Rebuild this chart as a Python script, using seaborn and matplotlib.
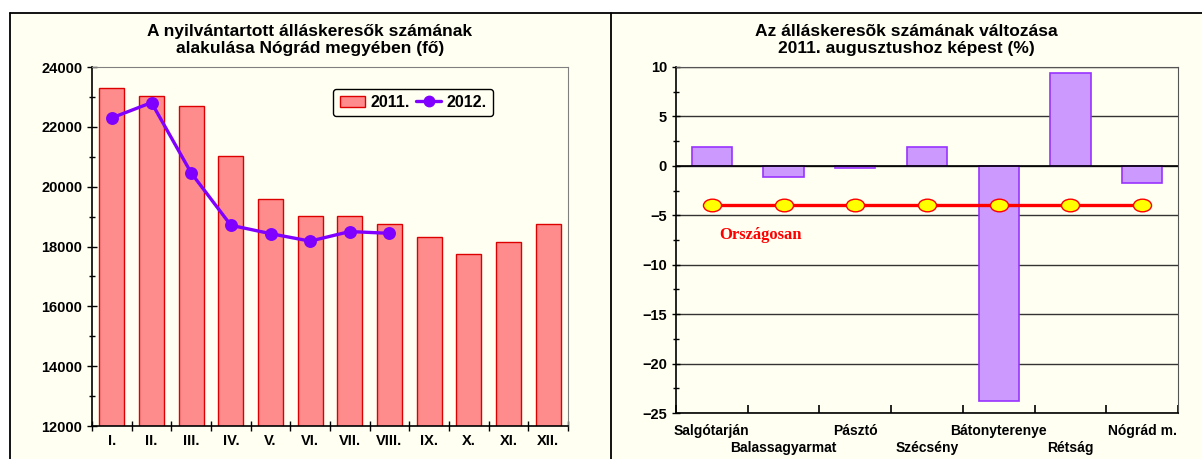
import numpy as np
import pandas as pd
import matplotlib.pyplot as plt
import seaborn as sns
from matplotlib.patches import Rectangle, Patch
from matplotlib.lines import Line2D
from matplotlib.path import Path
from matplotlib.ticker import MultipleLocator, FixedLocator

# data
months = ['I.', 'II.', 'III.', 'IV.', 'V.', 'VI.', 'VII.', 'VIII.', 'IX.', 'X.', 'XI.', 'XII.']
jobseekers_2011 = [23290, 23030, 22700, 21030, 19600, 19030, 19030, 18750, 18320, 17760, 18150, 18750]
jobseekers_2012 = [22300, 22810, 20460, 18710, 18430, 18180, 18500, 18440]

districts = ['Salgótarján', 'Balassagyarmat', 'Pásztó', 'Szécsény',
             'Bátonyterenye', 'Rétság', 'Nógrád m.']
change_pct = [1.9, -1.1, -0.2, 1.9, -23.8, 9.4, -1.7]
national_pct = [-4.0] * len(districts)

sns.set_style('ticks')
plt.rcParams['font.family'] = ['Liberation Sans', 'DejaVu Sans']
plt.rcParams['text.color'] = 'black'
plt.rcParams['xtick.color'] = 'black'
plt.rcParams['ytick.color'] = 'black'

ivory = '#FFFFF2'
fig = plt.figure(figsize=(12.02, 4.59), dpi=100)
fig.patch.set_facecolor('white')

# panel backgrounds and borders
W, H = 1202, 459
fig.patches.append(Rectangle((10 / W, 0), 1 - 10 / W, 1 - 13 / H, transform=fig.transFigure,
                             facecolor=ivory, edgecolor='none', zorder=-5))
fig.add_artist(Line2D([10 / W, 1], [1 - 13 / H] * 2, color='black', lw=1.3, zorder=-4))
fig.add_artist(Line2D([10 / W] * 2, [0, 1 - 13 / H], color='black', lw=1.3, zorder=-4))
fig.add_artist(Line2D([611 / W] * 2, [0, 1 - 13 / H], color='black', lw=1.3, zorder=-4))

# ---------- left chart ----------
ax1 = fig.add_axes([92 / W, 33 / H, 476 / W, 359 / H])
ax1.set_facecolor(ivory)
df11 = pd.DataFrame({'month': months, 'value': jobseekers_2011})
df12 = pd.DataFrame({'month': months[:len(jobseekers_2012)], 'value': jobseekers_2012})

sns.barplot(data=df11, x='month', y='value', order=months, color='#FF8C8C',
            edgecolor='#DD0000', linewidth=1, width=0.63, saturation=1, ax=ax1)
sns.pointplot(data=df12, x='month', y='value', order=months[:len(jobseekers_2012)],
              color='#7F00FF', markers='o', markersize=7.5, linewidth=2.4, ax=ax1)

ax1.set_ylim(12000, 24000)
ax1.set_xlim(-0.5, len(months) - 0.5)
ax1.yaxis.set_major_locator(MultipleLocator(2000))
ax1.yaxis.set_minor_locator(MultipleLocator(1000))
ax1.xaxis.set_minor_locator(FixedLocator(np.arange(len(months) + 1) - 0.5))
ax1.tick_params(axis='x', which='major', length=0, pad=6)
ax1.tick_params(axis='x', which='minor', length=7, direction='inout', width=1)
ax1.tick_params(axis='y', which='both', length=7, direction='inout', width=1)
ax1.tick_params(axis='y', which='minor', length=5)
ax1.set_xlabel('')
ax1.set_ylabel('')
for lab in ax1.get_xticklabels() + ax1.get_yticklabels():
    lab.set_fontweight('bold')
    lab.set_fontsize(10.5)
for s in ['left', 'bottom']:
    ax1.spines[s].set_color('black')
    ax1.spines[s].set_linewidth(1.2)
for s in ['top', 'right']:
    ax1.spines[s].set_visible(True)
    ax1.spines[s].set_color('#808080')

handles = [Patch(facecolor='#FF8C8C', edgecolor='#DD0000'),
           Line2D([], [], color='#7F00FF', marker='o', markersize=7.5, lw=2.4)]
leg = ax1.legend(handles, ['2011.', '2012.'], ncol=2, loc='upper left',
                 bbox_to_anchor=(0.49, 0.962), frameon=True, fancybox=True,
                 handlelength=1.6, handletextpad=0.35, columnspacing=0.35,
                 prop={'weight': 'bold', 'size': 11.5}, borderpad=0.4)
leg.get_frame().set_edgecolor('black')
leg.get_frame().set_facecolor(ivory)
leg.get_frame().set_alpha(1)

fig.text(310 / W, 1 - 40 / H,
         'A nyilvántartott álláskeresők számának\nalakulása Nógrád megyében (fő)',
         ha='center', va='center', fontsize=12.5, fontweight='bold', linespacing=1.2)

# ---------- right chart ----------
ax2 = fig.add_axes([676 / W, 46 / H, 502 / W, 346 / H])
ax2.set_facecolor(ivory)
dfc = pd.DataFrame({'district': districts, 'change': change_pct, 'national': national_pct})

ax2.yaxis.set_major_locator(MultipleLocator(5))
ax2.yaxis.set_minor_locator(MultipleLocator(2.5))
ax2.grid(axis='y', which='major', color='#333333', lw=1)
ax2.set_axisbelow(True)

sns.barplot(data=dfc, x='district', y='change', order=districts, color='#CC99FF',
            edgecolor='#9933FF', linewidth=1.2, width=0.56, saturation=1, ax=ax2)
ax2.axhline(0, color='black', lw=1.2, zorder=2)

circ = Path.unit_circle()
ellipse = Path(circ.vertices * np.array([1.0, 0.7]), circ.codes)
sns.pointplot(data=dfc, x='district', y='national', order=districts, color='#FF0000',
              markers=ellipse, markersize=13, linewidth=2.4, ax=ax2,
              markerfacecolor='#FFFF00', markeredgecolor='#FF0000', markeredgewidth=1)

ax2.text(0.685, -6.95, 'Országosan', color='#FF0000', fontsize=12, fontweight='bold',
         family=['Liberation Serif', 'DejaVu Serif'], ha='center', va='center')

ax2.set_ylim(-25, 10)
ax2.set_xlim(-0.5, len(districts) - 0.5)
ax2.xaxis.set_minor_locator(FixedLocator(np.arange(len(districts) + 1) - 0.5))
ax2.set_xticks(range(len(districts)))
ax2.set_xticklabels(districts, fontsize=10, fontweight='bold')
ax2.tick_params(axis='x', which='major', length=0)
for i, t in enumerate(ax2.xaxis.get_major_ticks()):
    t.set_pad(8 if i % 2 == 0 else 20)
ax2.tick_params(axis='x', which='minor', length=6, direction='in', width=1.2)
ax2.tick_params(axis='y', which='both', length=6, direction='inout', width=1)
ax2.tick_params(axis='y', which='minor', length=4)
ax2.set_xlabel('')
ax2.set_ylabel('')
for lab in ax2.get_yticklabels():
    lab.set_fontweight('bold')
    lab.set_fontsize(10.5)
for s in ['left', 'bottom']:
    ax2.spines[s].set_color('black')
    ax2.spines[s].set_linewidth(1.2)
for s in ['top', 'right']:
    ax2.spines[s].set_visible(True)
    ax2.spines[s].set_color('#555555')

fig.text(906 / W, 1 - 40 / H,
         'Az álláskeresõk számának változása\n2011. augusztushoz képest (%)',
         ha='center', va='center', fontsize=12.5, fontweight='bold', linespacing=1.2)

fig.savefig('out.png', dpi=100, facecolor=fig.get_facecolor())
